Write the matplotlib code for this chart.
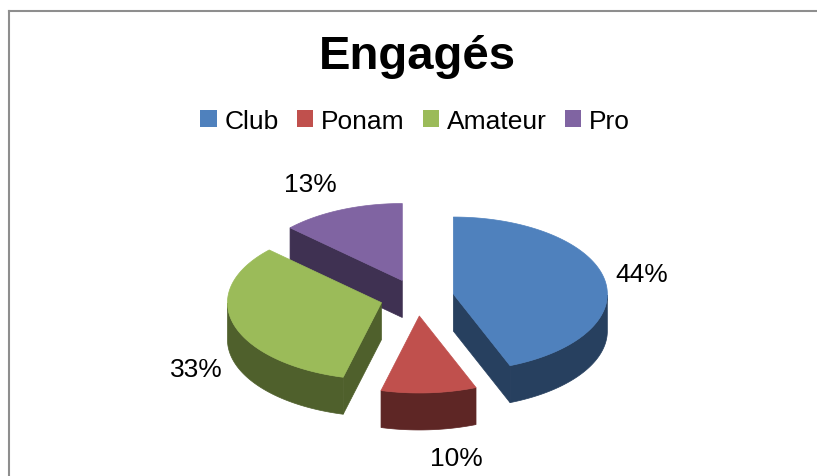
import numpy as np
import matplotlib.pyplot as plt
from matplotlib.patches import Polygon, Patch

plt.rcParams['font.family'] = ['Liberation Sans', 'DejaVu Sans']

# data
categories = ['Club', 'Ponam', 'Amateur', 'Pro']
values = [44, 10, 33, 13]
top_colors = ['#4F81BD', '#C0504D', '#9BBB59', '#8064A2']
side_colors = ['#27405F', '#5E2625', '#4F602C', '#3F3152']

# layout of the fake 3d pie (pixels)
cx, cy = 417, 298.5
rx, tilt = 154, 0.5
depth = 37
explode = 37
start = 90.0


def pt(ox, oy, ang, r):
    a = np.radians(ang)
    return ox + r * np.cos(a), oy - tilt * r * np.sin(a)


fig = plt.figure(figsize=(8.17, 4.77), dpi=100)
ax = fig.add_axes([0, 0, 1, 1])
ax.set_xlim(0, 817)
ax.set_ylim(477, 0)
ax.axis('off')

# chart border
ax.plot([9, 817], [11.5, 11.5], color='#8E8E8E', lw=1.5)
ax.plot([9, 9], [11.5, 477], color='#8E8E8E', lw=1.5)

total = float(sum(values))
slices = []
a_hi = start
for i, v in enumerate(values):
    sweep = v / total * 360
    a_lo = a_hi - sweep
    mid = (a_lo + a_hi) / 2
    ox, oy = pt(cx, cy, mid, explode)
    slices.append((i, a_lo, a_hi, mid, ox, oy))
    a_hi = a_lo

# back slices first
for i, a_lo, a_hi, mid, ox, oy in sorted(slices, key=lambda s: -np.sin(np.radians(s[3]))):
    top = top_colors[i]
    side = side_colors[i]
    # radial faces
    for ang, vis in ((a_lo, np.cos(np.radians(a_lo)) > 1e-6),
                     (a_hi, np.cos(np.radians(a_hi)) < -1e-6)):
        if vis:
            ex, ey = pt(ox, oy, ang, rx)
            quad = [(ox, oy), (ex, ey), (ex, ey + depth), (ox, oy + depth)]
            ax.add_patch(Polygon(quad, closed=True, fc=side, ec=side, lw=0.5))
    # outer wall, only the front half
    th = np.linspace(a_lo, a_hi, 200)
    front = th[np.sin(np.radians(th)) <= 0]
    if len(front) > 1:
        xs, ys = pt(ox, oy, front, rx)
        wall = np.concatenate([np.column_stack([xs, ys]),
                               np.column_stack([xs, ys + depth])[::-1]])
        ax.add_patch(Polygon(wall, closed=True, fc=side, ec=side, lw=0.5))
    # top face
    xs, ys = pt(ox, oy, th, rx)
    face = np.vstack([[ox, oy], np.column_stack([xs, ys])])
    ax.add_patch(Polygon(face, closed=True, fc=top, ec=top, lw=0.5))

    # percentage label, anchored just outside the slice
    c, s = np.cos(np.radians(mid)), np.sin(np.radians(mid))
    lx = ox + 165 * c
    ly = oy - tilt * 210 * s + (depth if s < 0 else 0)
    ax.text(lx, ly, '%d%%' % values[i], ha='left' if c >= 0 else 'right',
            va='center', fontsize=19, color='black')

ax.text(417, 57, 'Engagés', ha='center', va='center', fontsize=34,
        fontweight='bold')

handles = [Patch(facecolor=c, edgecolor='none') for c in top_colors]
fig.legend(handles, categories, loc='center', ncol=4, frameon=False,
           bbox_to_anchor=(415 / 817, 1 - 122 / 477), fontsize=19,
           handlelength=0.62, handleheight=0.62, handletextpad=0.3,
           columnspacing=0.68, borderpad=0)

fig.savefig('out.png', dpi=100)
